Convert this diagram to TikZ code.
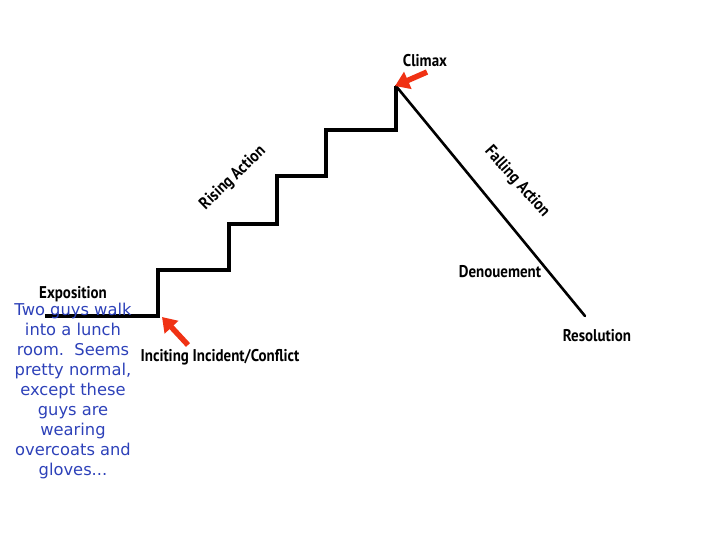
\documentclass[tikz,border=0pt]{standalone}
\usepackage{fontspec}
\newfontfamily\handfont[FakeStretch=0.88]{PT Sans}
\newfontfamily\notefont{DejaVu Sans}
\usetikzlibrary{arrows.meta, positioning}
\definecolor{noteblue}{RGB}{45,65,185}
\definecolor{arrowred}{RGB}{240,50,20}

\begin{document}
\begin{tikzpicture}[
    x=1pt, y=-1pt,
    tag/.style={font=\handfont\bfseries\fontsize{17}{20}\selectfont, inner sep=0pt},
    note/.style={font=\notefont\fontsize{16.3}{20}\selectfont, text=noteblue, align=center, inner sep=0pt},
    stair/.style={line width=3.2pt, line join=miter},
    slope/.style={line width=2.6pt, line cap=round},
    pointer/.style={-{Triangle[length=14pt, width=18pt]}, line width=5.5pt, arrowred}
]
    \useasboundingbox (0,0) rectangle (728,546);

    % Plot points
    \coordinate (start) at (45,316);
    \coordinate (step1) at (158,270);
    \coordinate (step2) at (229,224);
    \coordinate (step3) at (277,176);
    \coordinate (step4) at (326,130);
    \coordinate (peak) at (396,86);
    \coordinate (finish) at (585,316);

    % Staircase and falling line
    \draw[stair] (start) -| (step1) -| (step2) -| (step3) -| (step4) -| (peak);
    \draw[slope] (peak) -- (finish);

    % Labels
    \node[tag] (expo) at (73,294) {Exposition};
    \node[tag] (incite) at (220,357) {Inciting Incident/Conflict};
    \node[tag, rotate=44] (rising) at (233,178) {Rising Action};
    \node[tag] (climax) at (425,61) {Climax};
    \node[tag, rotate=-48] (falling) at (517,182) {Falling Action};
    \node[tag] (denoue) at (500,272) {Denouement};
    \node[tag] (resol) at (597,336) {Resolution};

    % Story note
    \node[note] (story) at (73,391) {Two guys walk\\into a lunch\\room.\ \ Seems\\pretty normal,\\except these\\guys are\\wearing\\overcoats and\\gloves...};

    % Red pointers
    \coordinate (inciteTail) at (188,345);
    \coordinate (inciteTip) at (162,317);
    \coordinate (climaxTail) at (427,72);
    \coordinate (climaxTip) at (395,86);
    \draw[pointer] (inciteTail) -- (inciteTip);
    \draw[pointer] (climaxTail) -- (climaxTip);
\end{tikzpicture}
\end{document}
